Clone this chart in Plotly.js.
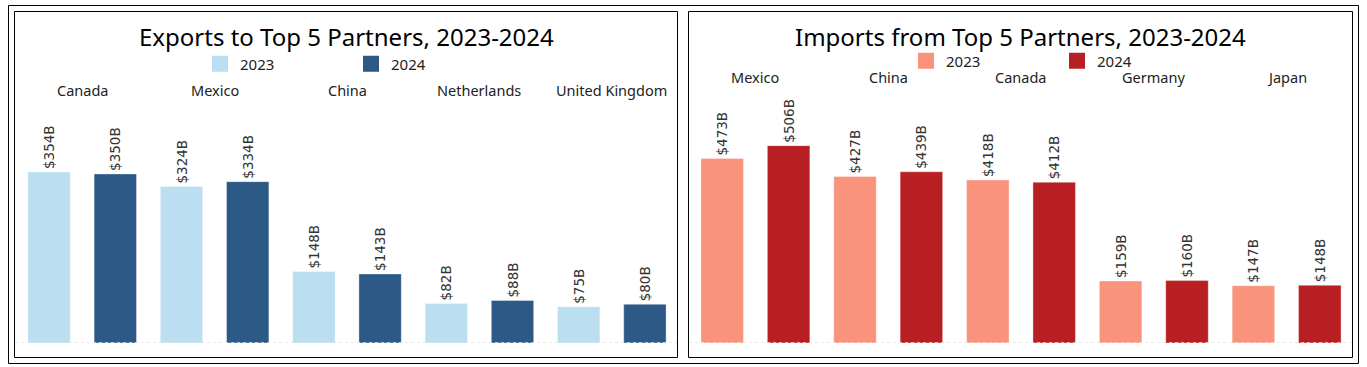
<!DOCTYPE html>
<html>
<head>
<meta charset="utf-8">
<script src="https://cdn.plot.ly/plotly-3.0.1.min.js"></script>
<style>html,body{margin:0;padding:0;background:#fff;}#chart{width:1367px;height:367px;}</style>
</head>
<body>
<div id="chart"></div>
<script>
// ---- data ----
var exportCategories = ['Canada', 'Mexico', 'China', 'Netherlands', 'United Kingdom'];
var exports2023 = [354, 324, 148, 82, 75];
var exports2024 = [350, 334, 143, 88, 80];
var importCategories = ['Mexico', 'China', 'Canada', 'Germany', 'Japan'];
var imports2023 = [473, 427, 418, 159, 147];
var imports2024 = [506, 439, 412, 160, 148];
var seriesNames = ['2023', '2024'];
var exportTitle = 'Exports to Top 5 Partners, 2023-2024';
var importTitle = 'Imports from Top 5 Partners, 2023-2024';

// ---- layout helpers ----
var W = 1367, H = 367;
function px(x) { return x / W; }
function py(y) { return 1 - y / H; }

var colExp = ['#bcdef1', '#2c5985'];
var colImp = ['#f9937c', '#b81f23'];
var labelFont = {family: 'DejaVu Sans', size: 13.5, color: '#333'};

function barTrace(cats, vals, color, xa, ya) {
  return {
    type: 'bar', x: cats, y: vals, xaxis: xa, yaxis: ya,
    marker: {color: color, line: {width: 1, color: 'rgba(255,255,255,0.35)'}},
    texttemplate: '$%{y}B', textposition: 'outside', textangle: -90,
    textfont: labelFont, constraintext: 'none', cliponaxis: false,
    showlegend: false, hoverinfo: 'skip'
  };
}
function legendTrace(name, color, xa, ya, leg) {
  return {
    type: 'scatter', mode: 'markers', x: [null], y: [null], xaxis: xa, yaxis: ya,
    name: name, legend: leg,
    marker: {symbol: 'square', size: 17, color: color, line: {width: 0}},
    showlegend: true, hoverinfo: 'skip'
  };
}

var data = [
  barTrace(exportCategories, exports2023, colExp[0], 'x', 'y'),
  barTrace(exportCategories, exports2024, colExp[1], 'x', 'y'),
  barTrace(importCategories, imports2023, colImp[0], 'x2', 'y2'),
  barTrace(importCategories, imports2024, colImp[1], 'x2', 'y2'),
  legendTrace(seriesNames[0], colExp[0], 'x', 'y', 'legend'),
  legendTrace(seriesNames[1], colExp[1], 'x', 'y', 'legend'),
  legendTrace(seriesNames[0], colImp[0], 'x2', 'y2', 'legend2'),
  legendTrace(seriesNames[1], colImp[1], 'x2', 'y2', 'legend2')
];

var hiddenAxis = {showgrid: false, zeroline: false, showticklabels: false, showline: false, ticks: '', fixedrange: true};

var annotations = [];
function addTitle(text, xc) {
  annotations.push({text: text, xref: 'paper', yref: 'paper', x: px(xc), y: py(36),
    xanchor: 'center', yanchor: 'middle', showarrow: false,
    font: {family: 'Noto Sans', size: 24, color: '#000'}});
}
addTitle(exportTitle, 346.5);
addTitle(importTitle, 1020);
exportCategories.forEach(function (c) {
  annotations.push({text: c, xref: 'x', yref: 'paper', x: c, y: py(90),
    xanchor: 'center', yanchor: 'middle', showarrow: false,
    font: {family: 'Noto Sans', size: 14.5, color: '#222'}});
});
importCategories.forEach(function (c) {
  annotations.push({text: c, xref: 'x2', yref: 'paper', x: c, y: py(77),
    xanchor: 'center', yanchor: 'middle', showarrow: false,
    font: {family: 'Noto Sans', size: 14.5, color: '#222'}});
});

function rect(x0, y0, x1, y1) {
  return {type: 'rect', xref: 'paper', yref: 'paper', x0: px(x0), x1: px(x1), y0: py(y0), y1: py(y1),
    line: {color: '#000', width: 1}, fillcolor: 'rgba(0,0,0,0)', layer: 'above'};
}
var shapes = [
  rect(8.5, 5.5, 1358.5, 363.5),
  rect(14.5, 11.5, 677.5, 357.5),
  rect(688.5, 11.5, 1352.5, 357.5),
  {type: 'line', xref: 'paper', yref: 'y', x0: px(15), x1: px(677), y0: 0, y1: 0,
    line: {color: '#e2e2e2', width: 1.5, dash: 'dot'}, layer: 'above'},
  {type: 'line', xref: 'paper', yref: 'y2', x0: px(689), x1: px(1352), y0: 0, y1: 0,
    line: {color: '#e2e2e2', width: 1.5, dash: 'dot'}, layer: 'above'}
];

var legendBase = {orientation: 'h', xanchor: 'left', yanchor: 'middle',
  font: {family: 'Noto Sans', size: 15, color: '#222'},
  bgcolor: 'rgba(0,0,0,0)', borderwidth: 0,
  entrywidth: 106, entrywidthmode: 'pixels', itemclick: false, itemdoubleclick: false};

var layout = {
  width: W, height: H,
  margin: {l: 0, r: 0, t: 0, b: 0, pad: 0},
  paper_bgcolor: '#fff', plot_bgcolor: 'rgba(0,0,0,0)',
  barmode: 'group', bargap: 0, bargroupgap: 0.36,
  xaxis: Object.assign({}, hiddenAxis, {type: 'category', domain: [px(16), px(678)], range: [-0.5, 4.5], anchor: 'y'}),
  yaxis: Object.assign({}, hiddenAxis, {domain: [py(343), py(149.8)], range: [0, 400], anchor: 'x'}),
  xaxis2: Object.assign({}, hiddenAxis, {type: 'category', domain: [px(689), px(1353)], range: [-0.5, 4.5], anchor: 'y2'}),
  yaxis2: Object.assign({}, hiddenAxis, {domain: [py(343), py(128.5)], range: [0, 550], anchor: 'x2'}),
  legend: Object.assign({}, legendBase, {x: px(200), y: py(64)}),
  legend2: Object.assign({}, legendBase, {x: px(906), y: py(61)}),
  annotations: annotations,
  shapes: shapes,
  showlegend: true
};

Plotly.newPlot('chart', data, layout, {displayModeBar: false, staticPlot: true});
</script>
</body>
</html>
